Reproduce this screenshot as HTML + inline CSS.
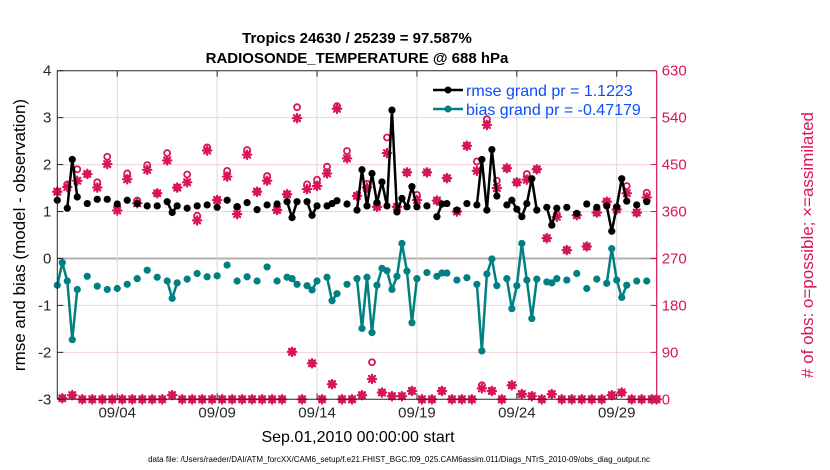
<!DOCTYPE html>
<html><head><meta charset="utf-8"><style>
body{margin:0;background:#fff;}
svg{display:block;font-family:"Liberation Sans",Arial,sans-serif;}
</style></head><body>
<svg id="chart" width="830" height="470" viewBox="0 0 830 470" xmlns="http://www.w3.org/2000/svg">
<rect width="830" height="470" fill="#fff"/>
<text x="357" y="43" text-anchor="middle" font-size="15" font-weight="bold">Tropics 24630 / 25239 = 97.587%</text>
<text x="357" y="63" text-anchor="middle" font-size="15" font-weight="bold">RADIOSONDE_TEMPERATURE @ 688 hPa</text>
<g id="grid"></g><g id="marks"></g><g id="axes"></g>
<text transform="translate(25,235) rotate(-90)" text-anchor="middle" font-size="17">rmse and bias (model - observation)</text>
<text transform="translate(813,245) rotate(-90)" text-anchor="middle" font-size="17" fill="#d81558"># of obs: o=possible; ×=assimilated</text>
<text x="358" y="442" text-anchor="middle" font-size="16">Sep.01,2010 00:00:00 start</text>
<text x="399" y="462" text-anchor="middle" font-size="8">data file: /Users/raeder/DAI/ATM_forcXX/CAM6_setup/f.e21.FHIST_BGC.f09_025.CAM6assim.011/Diags_NTrS_2010-09/obs_diag_output.nc</text>
<g>
<line x1="433" y1="90" x2="463" y2="90" stroke="#000" stroke-width="2.5"/><circle cx="448" cy="90" r="3.5" fill="#000"/>
<text x="466" y="96" font-size="16" fill="#0a4dff">rmse grand pr = 1.1223</text>
<line x1="433" y1="109" x2="463" y2="109" stroke="#008080" stroke-width="2.5"/><circle cx="448" cy="109" r="3.5" fill="#008080"/>
<text x="466" y="115" font-size="16" fill="#0a4dff">bias grand pr = -0.47179</text>
</g>
</svg>
<script>
const rmseDays=[0,0.5,0.75,1,1.5,2,2.5,3,3.5,4,4.5,5,5.5,5.75,6,6.5,7,7.5,8,8.5,9,9.5,10,10.5,11,11.5,11.75,12,12.5,12.75,13,13.5,13.75,14,14.5,15,15.25,15.5,15.75,16,16.25,16.5,16.75,17,17.25,17.5,17.75,18,18.5,19,19.25,19.5,20,20.5,21,21.25,21.5,21.75,22,22.5,22.75,23,23.25,23.5,23.75,24,24.5,24.75,25,25.5,26,26.5,27,27.5,27.75,28,28.25,28.5,29,29.5];
const rmseVals=[1.24,1.07,2.11,1.31,1.17,1.26,1.26,1.16,1.24,1.17,1.12,1.12,1.21,0.98,1.12,1.07,1.12,1.14,1.09,1.24,1.10,1.19,1.04,1.14,1.16,1.21,0.87,1.21,1.21,0.92,1.12,1.12,1.17,1.23,1.16,1.03,1.89,1.12,1.81,1.19,1.63,1.12,3.16,0.99,1.28,1.10,1.53,1.10,1.12,0.89,1.16,1.17,1.03,1.17,1.14,2.11,1.03,2.32,1.33,1.14,1.24,1.05,0.89,1.17,1.70,1.03,1.09,0.71,1.07,1.09,0.96,1.16,1.09,1.12,0.58,1.10,1.70,1.22,1.14,1.21];
const biasDays=[0,0.25,0.5,0.75,1,1.5,2,2.5,3,3.5,4,4.5,5,5.5,5.75,6,6.5,7,7.5,8,8.5,9,9.5,10,10.5,11,11.5,11.75,12,12.5,12.75,13,13.5,13.75,14,14.5,15,15.25,15.5,15.75,16,16.25,16.5,16.75,17,17.25,17.5,17.75,18,18.5,19,19.25,19.5,20,20.5,21,21.25,21.5,21.75,22,22.5,22.75,23,23.25,23.5,23.75,24,24.5,24.75,25,25.5,26,26.5,27,27.5,27.75,28,28.25,28.5,29,29.5];
const biasVals=[-0.57,-0.09,-0.48,-1.73,-0.66,-0.38,-0.59,-0.66,-0.64,-0.55,-0.43,-0.25,-0.40,-0.48,-0.85,-0.52,-0.44,-0.32,-0.39,-0.37,-0.14,-0.48,-0.39,-0.48,-0.18,-0.48,-0.40,-0.43,-0.55,-0.58,-0.67,-0.48,-0.40,-0.90,-0.75,-0.55,-0.43,-1.49,-0.40,-1.58,-0.57,-0.21,-0.26,-0.66,-0.38,0.32,-0.27,-1.37,-0.43,-0.30,-0.38,-0.31,-0.31,-0.46,-0.41,-0.55,-1.97,-0.33,-0.01,-0.58,-0.43,-1.07,-0.58,0.32,-0.46,-1.28,-0.44,-0.50,-0.52,-0.43,-0.46,-0.32,-0.64,-0.44,-0.53,0.21,-0.46,-0.83,-0.57,-0.48,-0.48];
const obsDays=[0,0.5,1,1.5,2,2.5,3,3.5,4,4.5,5,5.5,6,6.5,7,7.5,8,8.5,9,9.5,10,10.5,11,11.5,12,12.5,13,13.5,14,14.5,15,15.5,16,16.5,17,17.5,18,18.5,19,19.5,20,20.5,21,21.5,22,22.5,23,23.5,24,24.5,25,25.5,26,26.5,27,27.5,28,28.5,29,29.5,
0.25,0.75,1.25,1.75,2.25,2.75,3.25,3.75,4.25,4.75,5.25,5.75,6.25,6.75,7.25,7.75,8.25,8.75,9.25,9.75,10.25,10.75,11.25,11.75,12.25,12.75,13.25,13.75,14.25,14.75,15.25,15.75,16.25,16.75,17.25,17.75,18.25,18.75,19.25,19.75,20.25,20.75,21.25,21.75,22.25,22.75,23.25,23.75,24.25,24.75,25.25,25.75,26.25,26.75,27.25,27.75,28.25,28.75,29.25,29.75,30];
const possibleCounts=[398,412,441,432,416,465,369,433,381,449,395,472,406,431,352,483,382,438,369,478,398,428,363,393,560,412,421,446,562,476,390,413,369,502,369,435,392,435,381,424,360,486,456,537,419,443,416,432,441,309,355,286,353,293,358,379,364,409,358,396,
2,8,0,0,0,0,0,0,0,0,0,8,0,0,0,0,0,0,0,0,0,0,0,91,0,69,0,29,0,0,8,71,13,6,6,16,0,0,16,0,0,0,27,16,0,27,10,6,0,10,0,0,0,0,0,8,13,0,0,0,0];
const assimilatedCounts=[398,407,419,432,406,451,362,422,376,440,395,458,406,416,343,477,382,427,355,469,398,419,363,393,539,403,409,433,557,462,390,406,369,472,369,435,382,435,381,424,360,486,438,526,405,443,416,421,441,309,350,286,353,293,358,379,364,395,358,387,
2,8,0,0,0,0,0,0,0,0,0,8,0,0,0,0,0,0,0,0,0,0,0,91,0,69,0,29,0,0,8,39,13,6,6,16,0,0,16,0,0,0,21,16,0,27,10,6,0,10,0,0,0,0,0,8,13,0,0,0,0];
const leftTicks=[-3,-2,-1,0,1,2,3,4];
const rightTicks=[0,90,180,270,360,450,540,630];
const dateTickDays=[3,8,13,18,23,28];
const dateTickLabels=["09/04","09/09","09/14","09/19","09/24","09/29"];

const NS="http://www.w3.org/2000/svg";
const L=57.3,R=656.7,T=70.7,B=399.3;
const X=d=>L+d*(R-L)/30;
const Y=v=>B-(v+3)*(B-T)/7;
const Yr=c=>B-c*(B-T)/630;
const MAG="#d81558",TEAL="#008080";
function mk(parent,tag,attrs){const e=document.createElementNS(NS,tag);for(const k in attrs)e.setAttribute(k,attrs[k]);document.getElementById(parent).appendChild(e);return e;}

leftTicks.forEach(v=>{if(v===-3||v===4)return;
 const g=mk('grid','line',{x1:L,x2:R,y1:Y(v),y2:Y(v),stroke:v===0?'#b0b0b0':'#f2d0dc','stroke-width':v===0?2:1});
 
 });
dateTickDays.forEach(d=>{const g=mk('grid','line',{x1:X(d),x2:X(d),y1:T,y2:B,stroke:'#d8d8d8','stroke-width':1});
 
 });

function star(cx,cy,name){
 const g=mk('marks','g',{stroke:MAG,'stroke-width':2.2,'stroke-linecap':'round'});
 
 
 const s=4.2,t=3;
 [[0,-s,0,s],[-s,0,s,0],[-t,-t,t,t],[-t,t,t,-t]].forEach(a=>{const l=document.createElementNS(NS,'line');l.setAttribute('x1',cx+a[0]);l.setAttribute('y1',cy+a[1]);l.setAttribute('x2',cx+a[2]);l.setAttribute('y2',cy+a[3]);g.appendChild(l);});
}
obsDays.forEach((d,i)=>{
 const c=mk('marks','circle',{cx:X(d),cy:Yr(possibleCounts[i]),r:3,fill:'none',stroke:MAG,'stroke-width':1.8});
 
 
 star(X(d),Yr(assimilatedCounts[i]),'assimilated-obs-marker');
});

function series(days,vals,color,name){
 for(let i=1;i<days.length;i++){
  if(days[i]-days[i-1]<=0.26){
   const l=mk('marks','line',{x1:X(days[i-1]),y1:Y(vals[i-1]),x2:X(days[i]),y2:Y(vals[i]),stroke:color,'stroke-width':2.5});
   
   
  }
 }
 days.forEach((d,i)=>{
  const c=mk('marks','circle',{cx:X(d),cy:Y(vals[i]),r:3.6,fill:color});
  
  
 });
}
series(biasDays,biasVals,TEAL,'bias');
series(rmseDays,rmseVals,'#000','rmse');

const box=mk('axes','path',{d:`M${L},${B}V${T}H${R}`,fill:'none',stroke:'#262626','stroke-width':1});


const bx=mk('axes','line',{x1:L,x2:R,y1:B,y2:B,stroke:'#262626','stroke-width':1});


const ry=mk('axes','line',{x1:R,x2:R,y1:T,y2:B,stroke:MAG,'stroke-width':1.2});


leftTicks.forEach(v=>{
 mk('axes','line',{x1:L,x2:L+6,y1:Y(v),y2:Y(v),stroke:'#262626'});
 const t=mk('axes','text',{x:L-6,y:Y(v)+5,'text-anchor':'end','font-size':15,fill:'#262626'});
 t.textContent=v;
 
 
});
rightTicks.forEach(c=>{
 mk('axes','line',{x1:R,x2:R-6,y1:Yr(c),y2:Yr(c),stroke:MAG});
 const t=mk('axes','text',{x:R+5,y:Yr(c)+5,'font-size':15,fill:MAG});
 t.textContent=c;
 
 
});
dateTickDays.forEach((d,i)=>{
 mk('axes','line',{x1:X(d),x2:X(d),y1:B,y2:B-6,stroke:'#262626'});
 mk('axes','line',{x1:X(d),x2:X(d),y1:T,y2:T+6,stroke:'#262626'});
 const t=mk('axes','text',{x:X(d),y:B+18,'text-anchor':'middle','font-size':15,fill:'#262626'});
 t.textContent=dateTickLabels[i];
 
 
});
</script>
</body></html>
